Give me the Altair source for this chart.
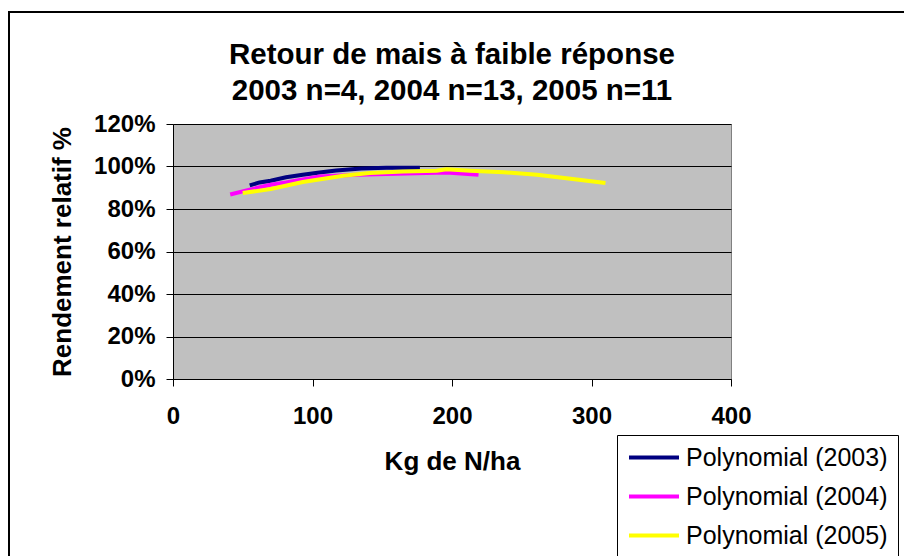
import altair as alt
import pandas as pd

# ---- data ----
series = ["Polynomial (2003)", "Polynomial (2004)", "Polynomial (2005)"]
colors = ["#000080", "#FF00FF", "#FFFF00"]

n_2003 = [55, 62, 70, 81, 93, 105, 117, 135, 153, 177]
r_2003 = [91.1, 92.5, 93.3, 94.9, 96.1, 97.2, 98.1, 99.1, 99.4, 99.4]

n_2004 = [41, 55, 70, 81, 105, 132, 160, 196, 219]
r_2004 = [86.8, 89.1, 91.4, 92.5, 95.3, 96.1, 96.6, 97.2, 96.1]

n_2005 = [50, 70, 93, 122, 141, 165, 189, 196, 213, 237, 261, 285, 310]
r_2005 = [87.5, 89.4, 92.7, 95.6, 96.9, 97.7, 98.0, 98.7, 98.0, 97.3, 96.1, 94.2, 92.2]

x_ticks = [0, 100, 200, 300, 400]
y_ticks = [0, 20, 40, 60, 80, 100, 120]

title_lines = ["Retour de mais à faible réponse", "2003 n=4, 2004 n=13, 2005 n=11"]

rows = []
for name, ns, rs in zip(series, [n_2003, n_2004, n_2005], [r_2003, r_2004, r_2005]):
    for n, r in zip(ns, rs):
        rows.append({"serie": name, "N": n, "R": r})
df = pd.DataFrame(rows)

FONT = "Liberation Sans"

frame = alt.Chart(alt.Data(values=[{"a": 1}])).mark_rect(
    fillOpacity=0, stroke="black", strokeWidth=2
).encode(
    x=alt.value(-164), y=alt.value(-112), x2=alt.value(1000), y2=alt.value(1000)
)

lines = alt.Chart(df).mark_line(strokeWidth=4).encode(
    x=alt.X(
        "N:Q",
        scale=alt.Scale(domain=[0, 400], nice=False, zero=False),
        axis=alt.Axis(
            values=x_ticks, title="Kg de N/ha", grid=False, tickSize=7,
            labelPadding=18, labelFontSize=24, labelFontWeight="bold",
            labelFlush=False, labelOverlap=False,
            titleFontSize=26, titleFontWeight="bold", titlePadding=20,
            domainColor="black", tickColor="black", labelColor="black",
            titleColor="black", labelFont=FONT, titleFont=FONT,
        ),
    ),
    y=alt.Y(
        "R:Q",
        scale=alt.Scale(domain=[0, 120], nice=False),
        axis=alt.Axis(
            values=y_ticks, labelExpr="datum.value + '%'", title="Rendement relatif %",
            grid=True, gridColor="black", gridWidth=1, tickSize=7, labelPadding=11,
            labelFontSize=24, labelFontWeight="bold", titleFontSize=26,
            titleFontWeight="bold", titlePadding=18, domainColor="black",
            tickColor="black", labelColor="black", titleColor="black",
            labelFont=FONT, titleFont=FONT,
        ),
    ),
    color=alt.Color(
        "serie:N",
        scale=alt.Scale(domain=series, range=colors),
        legend=alt.Legend(
            title=None, orient="none", legendX=444, legendY=311,
            symbolType="stroke", symbolSize=2500, symbolStrokeWidth=4,
            clipHeight=25, labelLimit=400,
            labelFontSize=25, labelFont=FONT, labelColor="black", labelOffset=5,
            strokeColor="black", fillColor="white", padding=10, rowPadding=13,
        ),
    ),
)

chart = alt.layer(frame, lines).properties(
    width=558,
    height=255,
    title=alt.TitleParams(
        text=title_lines, fontSize=29.5, fontWeight="bold", font=FONT, color="black",
        anchor="middle", frame="group", offset=20, lineHeight=36, dy=115,
    ),
    autosize=alt.AutoSizeParams(type="none"),
    padding={"left": 165, "top": 116, "right": 173, "bottom": 181},
).configure(
    background="white",
    view=alt.ViewConfig(fill="#C0C0C0", stroke="#808080", strokeWidth=1),
)

chart.save("out.html", embed_options={"renderer": "svg", "actions": False})
